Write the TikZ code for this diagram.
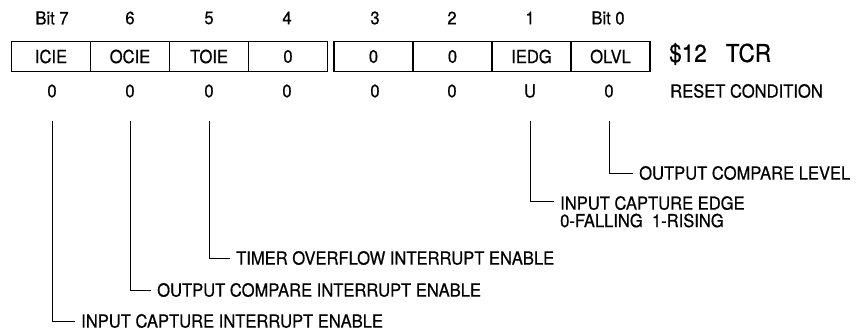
\documentclass[tikz,border=0pt]{standalone}
\usepackage{fontspec}
\setmainfont[FakeStretch=0.92,FakeBold=0.6]{TeX Gyre Heros}
\usetikzlibrary{positioning,calc}
\tikzset{
  cell/.style={draw, line width=1.4pt, minimum width=79pt, minimum height=30pt,
               inner sep=0pt, font=\fontsize{18}{16}\selectfont},
  bitno/.style={inner sep=0pt, font=\fontsize{18}{16}\selectfont},
  rst/.style={inner sep=0pt, font=\fontsize{18}{16}\selectfont},
  lab/.style={inner ysep=0pt, inner xsep=6pt, anchor=west, align=left,
              font=\fontsize{18}{17.5}\selectfont},
  big/.style={inner sep=0pt, anchor=west, font=\fontsize{24.5}{24}\selectfont},
  lead/.style={line width=0.9pt},
}
\begin{document}
\begin{tikzpicture}[x=1pt, y=-1pt]
  \useasboundingbox (0,0) rectangle (859,331);
  % register cells, bit 7 .. bit 4
  \node[cell] (c7) at (51,56.5) {ICIE};
  \node[cell] (c6) at (130,56.5) {OCIE};
  \node[cell] (c5) at (209,56.5) {TOIE};
  \node[cell] (c4) at (288,56.5) {0};
  % bit 3 .. bit 0 (after the double rule)
  \node[cell] (c3) at (373.5,56.5) {0};
  \node[cell] (c2) at (452.5,56.5) {0};
  \node[cell] (c1) at (531.5,56.5) {IEDG};
  \node[cell] (c0) at (610.5,56.5) {OLVL};
  % bit numbers
  \node[bitno] (b7) at (52,18) {Bit 7};
  \node[bitno] (b6) at (130,18) {6};
  \node[bitno] (b5) at (209,18) {5};
  \node[bitno] (b4) at (287,18) {4};
  \node[bitno] (b3) at (375,18) {3};
  \node[bitno] (b2) at (452,18) {2};
  \node[bitno] (b1) at (530,18) {1};
  \node[bitno] (b0) at (608,18) {Bit 0};
  % reset values
  \node[rst] (r7) at (52,91) {0};
  \node[rst] (r6) at (130,91) {0};
  \node[rst] (r5) at (209,91) {0};
  \node[rst] (r4) at (287,91) {0};
  \node[rst] (r3) at (375,91) {0};
  \node[rst] (r2) at (452,91) {0};
  \node[rst] (r1) at (530,91) {U};
  \node[rst] (r0) at (609,91) {0};
  % register name and reset row title
  \node[big] (tcr) at (669,54) {\$12\hspace{19pt}TCR};
  \node[bitno, anchor=west] (rcond) at (670,91) {RESET CONDITION};
  % bit descriptions
  \node[lab] (olvl) at (633,173) {OUTPUT COMPARE LEVEL};
  \node[lab, anchor=north west] (iedg) at (554,196)
       {INPUT CAPTURE EDGE\\0-FALLING\ \ 1-RISING};
  \node[lab] (toie) at (230,258) {TIMER OVERFLOW INTERRUPT ENABLE};
  \node[lab] (ocie) at (151,290) {OUTPUT COMPARE INTERRUPT ENABLE};
  \node[lab] (icie) at (75,321) {INPUT CAPTURE INTERRUPT ENABLE};
  % leaders
  \draw[lead] ([yshift=-23pt]r7.south) |- (icie.west);
  \draw[lead] ([yshift=-23pt]r6.south) |- (ocie.west);
  \draw[lead] ([yshift=-23pt]r5.south) |- (toie.west);
  \draw[lead] ([yshift=-23pt]r1.south) |- ([yshift=-5pt]iedg.north west);
  \draw[lead] ([yshift=-23pt]r0.south) |- (olvl.west);
\end{tikzpicture}
\end{document}
